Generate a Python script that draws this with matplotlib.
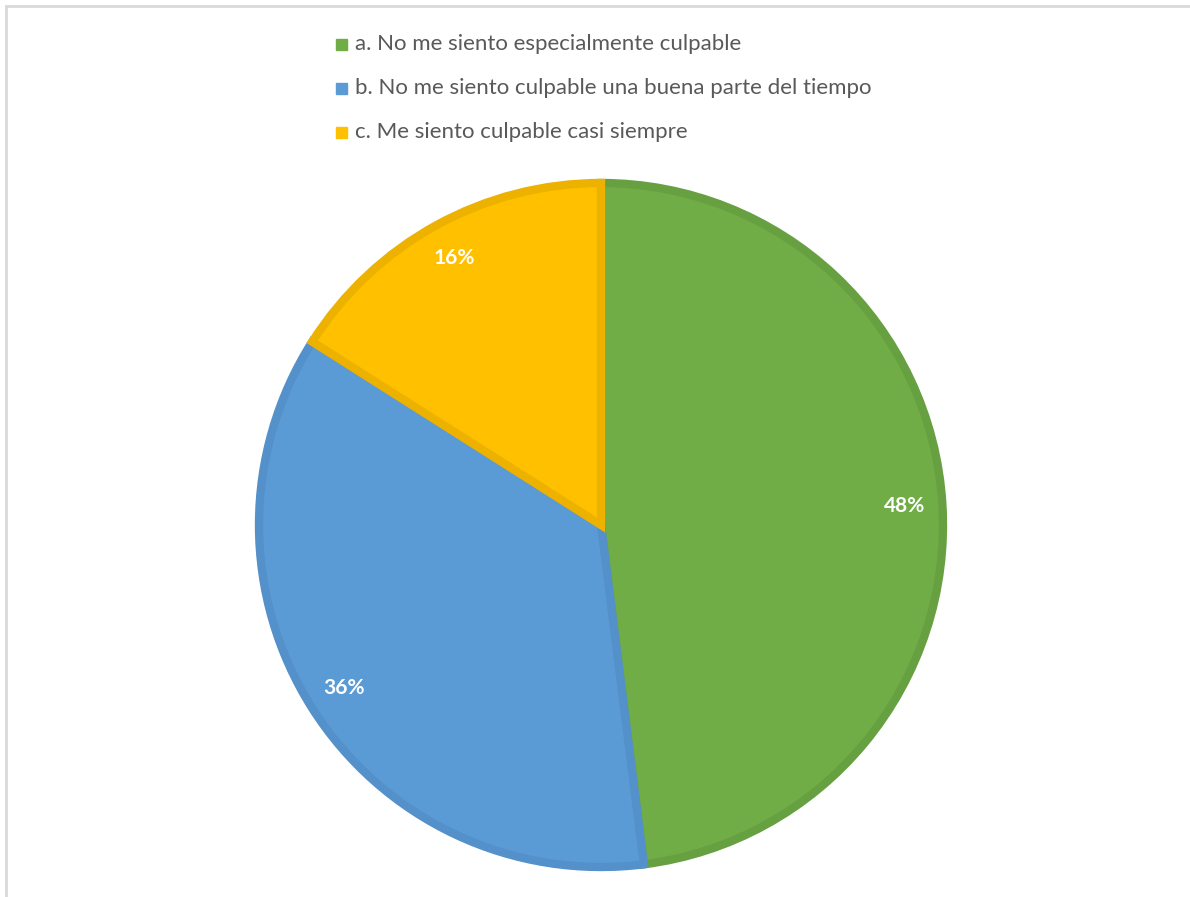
import matplotlib.pyplot as plt
from matplotlib.patches import Rectangle

labels = ['a. No me siento especialmente culpable',
          'b. No me siento culpable una buena parte del tiempo',
          'c. Me siento culpable casi siempre']
values = [48, 36, 16]
colors = ['#70AD47', '#5B9BD5', '#FFC000']
edges = ['#67A041', '#5490C9', '#EDB200']

plt.rcParams['font.family'] = ['Lato', 'DejaVu Sans']

fig = plt.figure(figsize=(11.9, 8.97), dpi=100)
ax = fig.add_axes([0, 0, 1, 1])

# frame lines (top and left only, picture is cropped)
ax.plot([5.5, 1190], [891.5, 891.5], color='#D9D9D9', lw=2)
ax.plot([5.5, 5.5], [0, 891.5], color='#D9D9D9', lw=2)

wedges, texts, autotexts = ax.pie(values, colors=colors, startangle=90, counterclock=False,
                                  center=(601, 372), radius=342, frame=True,
                                  autopct='%1.0f%%', pctdistance=0.89,
                                  wedgeprops=dict(linewidth=6),
                                  textprops=dict(color='white', fontsize=15, fontweight='bold'))
for w, e in zip(wedges, edges):
    w.set_edgecolor(e)
ax.set_xlim(0, 1190)
ax.set_ylim(0, 897)
ax.set_aspect('equal')
ax.axis('off')

# legend
for i, (lab, c) in enumerate(zip(labels, colors)):
    y = 897 - (44 + 44 * i)
    ax.add_patch(Rectangle((336, y - 5.5), 11, 11, color=c))
    ax.text(355, y, lab, fontsize=16, color='#595959', va='center', ha='left')

fig.savefig('out.png', dpi=100)
